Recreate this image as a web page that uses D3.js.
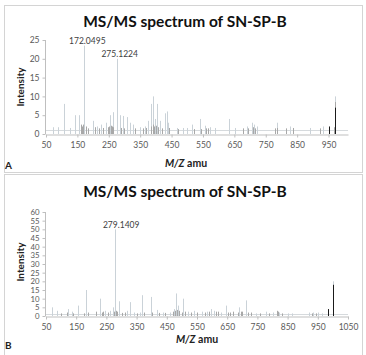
<!DOCTYPE html>
<html>
<head>
<meta charset="utf-8">
<script src="https://cdn.jsdelivr.net/npm/d3@7"></script>
<style>
  body { margin: 0; background: #fff; }
  svg { display: block; font-family: Lato, "Open Sans", sans-serif; }
  .tick text { fill: #595959; }
</style>
</head>
<body>
<svg id="chart" width="366" height="355"></svg>
<script>
// Panel A peaks [m/z, intensity]
const lightA = [[71,1.8],[89,1.8],[108,8],[126,1.6],[142,5],[156,5],[172.0495,23.5],[199,3.5],[212,2],[226,2.5],[240,3],[254,5],[264,5.8],[275.1224,20],[286,5],[295,4.8],[307,4.5],[317,3],[327,2.5],[349,1.8],[365,2],[376,3.5],[383,8],[390,10],[397,4],[403,8],[413,3.5],[429,5.5],[434,6],[439,3],[467,1.6],[485,1.6],[499,1.6],[514,2.5],[540,4],[556,2.2],[572,1.8],[588,1.6],[633,4],[652,1.6],[689,2],[705,3],[712,2.5],[721,2],[787,3],[827,2],[891,1.6],[933,2],[970,10]];
const greyA = [[160,2.5],[164,2],[168,2.5],[176,2],[185,1.5],[205,1.8],[218,1.5],[232,1.6],[246,1.8],[250,2],[256,2.2],[259,2],[262,1.8],[290,1.6],[300,1.5],[335,1.5],[358,1.5],[370,1.6],[386,2],[392,2.5],[395,2],[400,2.2],[408,1.8],[420,1.5],[441,1.6],[470,1.3],[520,1.3],[545,1.3],[560,1.5],[565,1.5],[678,1.5],[695,1.5],[708,1.8],[715,1.5],[779,1.5],[785,1.6],[816,1.5],[838,1.6],[923,1.5],[966,1.8],[970,8.5]];
const darkA = [[952,2],[970,7]];
const labelsA = [[172.0495,23.5,'172.0495'],[275.1224,20,'275.1224']];

// Panel B peaks [m/z, intensity]
const lightB = [[69,5],[85,3],[124,4],[135,2.5],[157,6],[182,15],[229,10],[245,3],[262,3],[272,5],[279.1409,50],[292,8.5],[317,3],[328,8],[340,2],[360,2],[368,12],[397,11],[417,3.5],[437,2],[459,2],[474,4],[482,13],[488,6],[505,10],[520,2.5],[541,3],[567,2.5],[583,2.5],[596,4],[606,3],[629,2],[645,6],[690,5],[712,9],[744,1.5],[780,2.5],[803,2],[821,2],[850,1.5],[863,1.5],[922,2],[935,2],[952,2],[963,1.5],[1000,20]];
const greyB = [[100,1.5],[120,2],[140,1.5],[175,1.5],[190,2],[215,2.5],[235,2],[240,2.5],[255,2],[276,2.5],[282,3],[286,2.5],[300,1.8],[312,2],[350,1.5],[375,2],[400,2],[425,1.8],[445,1.8],[470,2.5],[478,3],[484,3.5],[492,3],[500,2],[510,2.5],[530,2],[550,2],[575,2],[590,2.5],[612,2.5],[620,2.5],[652,2],[660,2],[668,2.5],[685,2],[695,2.5],[700,2.5],[718,2],[730,2],[760,1.5],[790,1.5],[815,3],[818,2.5],[830,1.5],[930,1.5],[945,1.5]];
const darkB = [[985,4],[1000,18],[1001,15]];
const labelsB = [[279.1409,50,'279.1409']];

const xTicksA = [50,150,250,350,450,550,650,750,850,950];
const xTicksB = [50,150,250,350,450,550,650,750,850,950,1050];
const yTicksA = [0,5,10,15,20,25];
const yTicksB = [0,5,10,15,20,25,30,35,40,45,50,55,60];
const noiseFloor = 1;

const svg = d3.select('#chart');

function panel(o) {
  const g = svg.append('g');
  g.append('rect')
    .attr('x', o.box[0] + 0.5).attr('y', o.box[1] + 0.5)
    .attr('width', o.box[2]).attr('height', o.box[3])
    .attr('fill', 'none').attr('stroke', '#d4d4d4');

  const x = d3.scaleLinear().domain(o.xDomain).range(o.xRange);
  const y = d3.scaleLinear().domain(o.yDomain).range(o.yRange);
  const px = v => Math.round(x(v)) + 0.5;

  g.append('text').text('MS/MS spectrum of SN-SP-B')
    .attr('x', 185).attr('y', o.titleY)
    .attr('text-anchor', 'middle').attr('font-weight', 'bold')
    .attr('font-size', 15.5).attr('fill', '#111');

  const yAxis = g.append('g')
    .attr('transform', `translate(${o.xRange[0] - 0.5},0)`)
    .call(d3.axisLeft(y).tickValues(o.yTicks).tickSize(3).tickSizeOuter(0));
  yAxis.selectAll('text').attr('font-size', o.yFont).attr('font-family', 'Lato');
  yAxis.selectAll('path, line').attr('stroke', '#bfbfbf');
  yAxis.select('.domain').remove();
  g.append('line')
    .attr('x1', o.xRange[0] - 0.5).attr('x2', o.xRange[0] - 0.5)
    .attr('y1', y(o.yDomain[1])).attr('y2', y(0))
    .attr('stroke', '#bfbfbf');

  const xAxis = g.append('g')
    .attr('transform', `translate(0,${Math.round(y(0)) + 0.5})`)
    .call(d3.axisBottom(x).tickValues(o.xTicks).tickFormat(d3.format('d')).tickSize(3).tickSizeOuter(0));
  xAxis.selectAll('text').attr('font-size', 8.5).attr('font-family', 'Lato').attr('dy', '0.9em');
  xAxis.selectAll('path, line').attr('stroke', '#bfbfbf');

  g.append('line')
    .attr('x1', o.xRange[0]).attr('x2', o.xRange[1])
    .attr('y1', Math.round(y(noiseFloor)) + 0.5).attr('y2', Math.round(y(noiseFloor)) + 0.5)
    .attr('stroke', '#d6dadd');

  const drawPeaks = (data, color) => g.append('g')
    .selectAll('line').data(data).join('line')
      .attr('x1', d => px(d[0])).attr('x2', d => px(d[0]))
      .attr('y1', y(0)).attr('y2', d => y(d[1]))
      .attr('stroke', color).attr('stroke-width', 1);

  drawPeaks(o.light, '#cad2d8');
  drawPeaks(o.grey, '#a8a8a8');
  drawPeaks(o.dark, '#1a1a1a');

  g.selectAll('.plab').data(o.labels).join('text')
    .attr('x', d => x(d[0]) + o.labelDx).attr('y', d => y(d[1]) - 1.5)
    .attr('text-anchor', 'middle').attr('font-size', 8.5).attr('fill', '#404040')
    .text(d => d[2]);

  g.append('text').text('Intensity')
    .attr('transform', `translate(24,${o.yLabelY}) rotate(-90)`)
    .attr('text-anchor', 'middle').attr('font-weight', 'bold')
    .attr('font-size', 10).attr('fill', '#222');

  const xl = g.append('text')
    .attr('x', o.xLabelX).attr('y', o.xLabelY)
    .attr('text-anchor', 'middle').attr('font-weight', 'bold')
    .attr('font-size', 10.5).attr('fill', '#222');
  xl.append('tspan').attr('font-style', 'italic').text('M/Z');
  xl.append('tspan').text(' amu');

  g.append('text').text(o.letter)
    .attr('x', 5).attr('y', o.letterY)
    .attr('font-weight', 'bold').attr('font-size', 10).attr('fill', '#222');
}

panel({
  box: [4, 5, 358, 167],
  xDomain: [50, 1012], xRange: [46, 348],
  yDomain: [0, 25], yRange: [134, 40],
  xTicks: xTicksA, yTicks: yTicksA, yFont: 8.5,
  light: lightA, grey: greyA, dark: darkA, labels: labelsA, labelDx: 3,
  titleY: 27, yLabelY: 87, xLabelX: 186, xLabelY: 167, letter: 'A', letterY: 169
});

panel({
  box: [4, 174, 358, 190],
  xDomain: [50, 1050], xRange: [46, 348],
  yDomain: [0, 60], yRange: [316, 212],
  xTicks: xTicksB, yTicks: yTicksB, yFont: 7.8,
  light: lightB, grey: greyB, dark: darkB, labels: labelsB, labelDx: 6,
  titleY: 197, yLabelY: 262, xLabelX: 197, xLabelY: 343, letter: 'B', letterY: 349
});
</script>
</body>
</html>
